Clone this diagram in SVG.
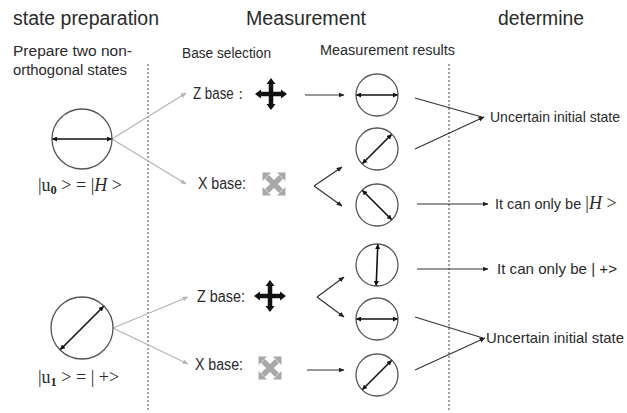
<svg xmlns="http://www.w3.org/2000/svg" xmlns:xlink="http://www.w3.org/1999/xlink" width="627" height="413" viewBox="0 0 627 413">
<defs>
<style>
text{font-family:"Liberation Sans","Noto Sans",sans-serif;fill:#2a2a2a}
.h{font-size:20px}
.s{font-size:15.5px}
.m{font-family:"Liberation Serif","DejaVu Serif",serif;font-size:18px}
.t{font-size:16px}
.u{font-size:14.5px}
.circ{fill:#fff;stroke:#555;stroke-width:1.3}
.dbl{stroke:#111;stroke-width:1.6;fill:none;marker-start:url(#ah);marker-end:url(#ah)}
.blk{stroke:#333;stroke-width:1.2;fill:none;marker-end:url(#ab)}
.gry{stroke:#b5b5b5;stroke-width:1.3;fill:none;marker-end:url(#ag)}
.ln{stroke:#333;stroke-width:1.2;fill:none}
.dash{stroke:#666;stroke-width:1.2;stroke-dasharray:2 2;fill:none}
</style>
<marker id="ah" viewBox="0 0 10 10" refX="9" refY="5" markerWidth="5" markerHeight="5" orient="auto-start-reverse" markerUnits="userSpaceOnUse"><path d="M0,0L10,5L0,10z" fill="#111"/></marker>
<marker id="ab" viewBox="0 0 10 10" refX="9" refY="5" markerWidth="6" markerHeight="6" orient="auto" markerUnits="userSpaceOnUse"><path d="M0,1L10,5L0,9z" fill="#222"/></marker>
<marker id="ag" viewBox="0 0 10 10" refX="9" refY="5" markerWidth="6" markerHeight="6" orient="auto" markerUnits="userSpaceOnUse"><path d="M0,1L10,5L0,9z" fill="#b5b5b5"/></marker>
<g id="plus">
<path d="M-11,0H11M0,-11V11" stroke="#111" stroke-width="4.5"/>
<path d="M-16,0L-10,-4.5L-10,4.5zM16,0L10,-4.5L10,4.5zM0,-16L-4.5,-10L4.5,-10zM0,16L-4.5,10L4.5,10z" fill="#111"/>
</g>
<g id="cross">
<path d="M-7,-7L7,7M7,-7L-7,7" stroke="#a8a8a8" stroke-width="5.5"/>
<path d="M-11.5,-11.5L-11.5,-3L-3,-11.5zM11.5,-11.5L3,-11.5L11.5,-3zM-11.5,11.5L-3,11.5L-11.5,3zM11.5,11.5L11.5,3L3,11.5z" fill="#a8a8a8"/>
</g>
</defs>
<rect width="627" height="413" fill="#fff"/>

<g id="headers">
<text class="h" x="13" y="25" textLength="146" lengthAdjust="spacingAndGlyphs">state preparation</text>
<text class="h" x="246" y="25" textLength="120" lengthAdjust="spacingAndGlyphs">Measurement</text>
<text class="h" x="498" y="25" textLength="86" lengthAdjust="spacingAndGlyphs">determine</text>
<text class="s" x="13" y="56" textLength="119" lengthAdjust="spacingAndGlyphs">Prepare two non-</text>
<text class="s" x="13" y="75" textLength="114" lengthAdjust="spacingAndGlyphs">orthogonal states</text>
<text class="s" x="182" y="58" textLength="89" lengthAdjust="spacingAndGlyphs">Base selection</text>
<text class="s" x="320" y="55" textLength="135" lengthAdjust="spacingAndGlyphs">Measurement results</text>
</g>

<g id="dividers">
<line class="dash" x1="148" y1="64" x2="148" y2="410"/>
<line class="dash" x1="449" y1="64" x2="449" y2="410"/>
</g>

<g id="connectors">
<line class="gry" x1="112" y1="139" x2="186" y2="93"/>
<line class="gry" x1="112" y1="139" x2="186" y2="184"/>
<line class="gry" x1="113" y1="328" x2="188" y2="297"/>
<line class="gry" x1="113" y1="328" x2="188" y2="364"/>
<line class="blk" x1="305" y1="95" x2="344" y2="95"/>
<line class="blk" x1="314" y1="186" x2="342" y2="167"/>
<line class="blk" x1="314" y1="186" x2="342" y2="206"/>
<line class="blk" x1="317" y1="297" x2="344" y2="277"/>
<line class="blk" x1="317" y1="297" x2="344" y2="317"/>
<line class="blk" x1="307" y1="370" x2="344" y2="370"/>
<line class="ln" x1="415" y1="98" x2="482" y2="117"/>
<line class="blk" x1="415" y1="149" x2="484" y2="117"/>
<line class="blk" x1="417" y1="204" x2="488" y2="204"/>
<line class="blk" x1="417" y1="269" x2="488" y2="269"/>
<line class="ln" x1="415" y1="317" x2="483" y2="338"/>
<line class="blk" x1="415" y1="370" x2="485" y2="338"/>
</g>

<g id="state-u0">
<circle class="circ" cx="82" cy="139" r="30"/>
<line class="dbl" x1="52.5" y1="139" x2="111.5" y2="139"/>
<text class="m" x="38" y="191">|u<tspan font-weight="bold" font-size="12.5" dy="3">0</tspan><tspan dy="-3"> &gt; = |</tspan><tspan font-style="italic">H</tspan> &gt;</text>
</g>

<g id="state-u1">
<circle class="circ" cx="82" cy="328" r="31"/>
<line class="dbl" x1="60.5" y1="349.5" x2="103.5" y2="306.5"/>
<text class="m" x="38" y="383">|u<tspan font-weight="bold" font-size="12.5" dy="3">1</tspan><tspan dy="-3"> &gt; = | +&gt;</tspan></text>
</g>

<g id="z-base-1">
<text class="t" x="193" y="99" textLength="54" lengthAdjust="spacingAndGlyphs">Z base：</text>
<use xlink:href="#plus" x="271" y="94"/>
</g>
<g id="x-base-1">
<text class="t" x="198" y="189" textLength="48" lengthAdjust="spacingAndGlyphs">X base:</text>
<use xlink:href="#cross" x="274" y="184"/>
</g>
<g id="z-base-2">
<text class="t" x="197" y="302" textLength="48" lengthAdjust="spacingAndGlyphs">Z base:</text>
<use xlink:href="#plus" x="270" y="296"/>
</g>
<g id="x-base-2">
<text class="t" x="195" y="370" textLength="48" lengthAdjust="spacingAndGlyphs">X base:</text>
<use xlink:href="#cross" x="270" y="368"/>
</g>

<g id="result-1">
<circle class="circ" cx="377" cy="95" r="21"/>
<line class="dbl" x1="356.5" y1="95" x2="397.5" y2="95"/>
</g>
<g id="result-2">
<circle class="circ" cx="377" cy="149" r="21"/>
<line class="dbl" x1="362.5" y1="163.5" x2="391.5" y2="134.5"/>
</g>
<g id="result-3">
<circle class="circ" cx="377" cy="205" r="21"/>
<line class="dbl" x1="362.5" y1="190.5" x2="391.5" y2="219.5"/>
</g>
<g id="result-4">
<circle class="circ" cx="377" cy="265" r="21"/>
<line class="dbl" x1="377.8" y1="244.5" x2="376.2" y2="285.5"/>
</g>
<g id="result-5">
<circle class="circ" cx="377" cy="319" r="21"/>
<line class="dbl" x1="356.5" y1="319" x2="397.5" y2="319"/>
</g>
<g id="result-6">
<circle class="circ" cx="377" cy="375" r="21"/>
<line class="dbl" x1="362.5" y1="389.5" x2="391.5" y2="360.5"/>
</g>

<g id="outcome-1">
<text class="u" x="490" y="122" textLength="130" lengthAdjust="spacingAndGlyphs">Uncertain initial state</text>
</g>
<g id="outcome-2">
<text class="u" x="495" y="209">It can only be <tspan class="m" font-size="17.5">|<tspan font-style="italic">H</tspan> &gt;</tspan></text>
</g>
<g id="outcome-3">
<text class="u" x="497" y="274" textLength="120" lengthAdjust="spacingAndGlyphs">It can only be | +&gt;</text>
</g>
<g id="outcome-4">
<text class="u" x="486" y="343" textLength="138" lengthAdjust="spacingAndGlyphs">Uncertain initial state</text>
</g>
</svg>
